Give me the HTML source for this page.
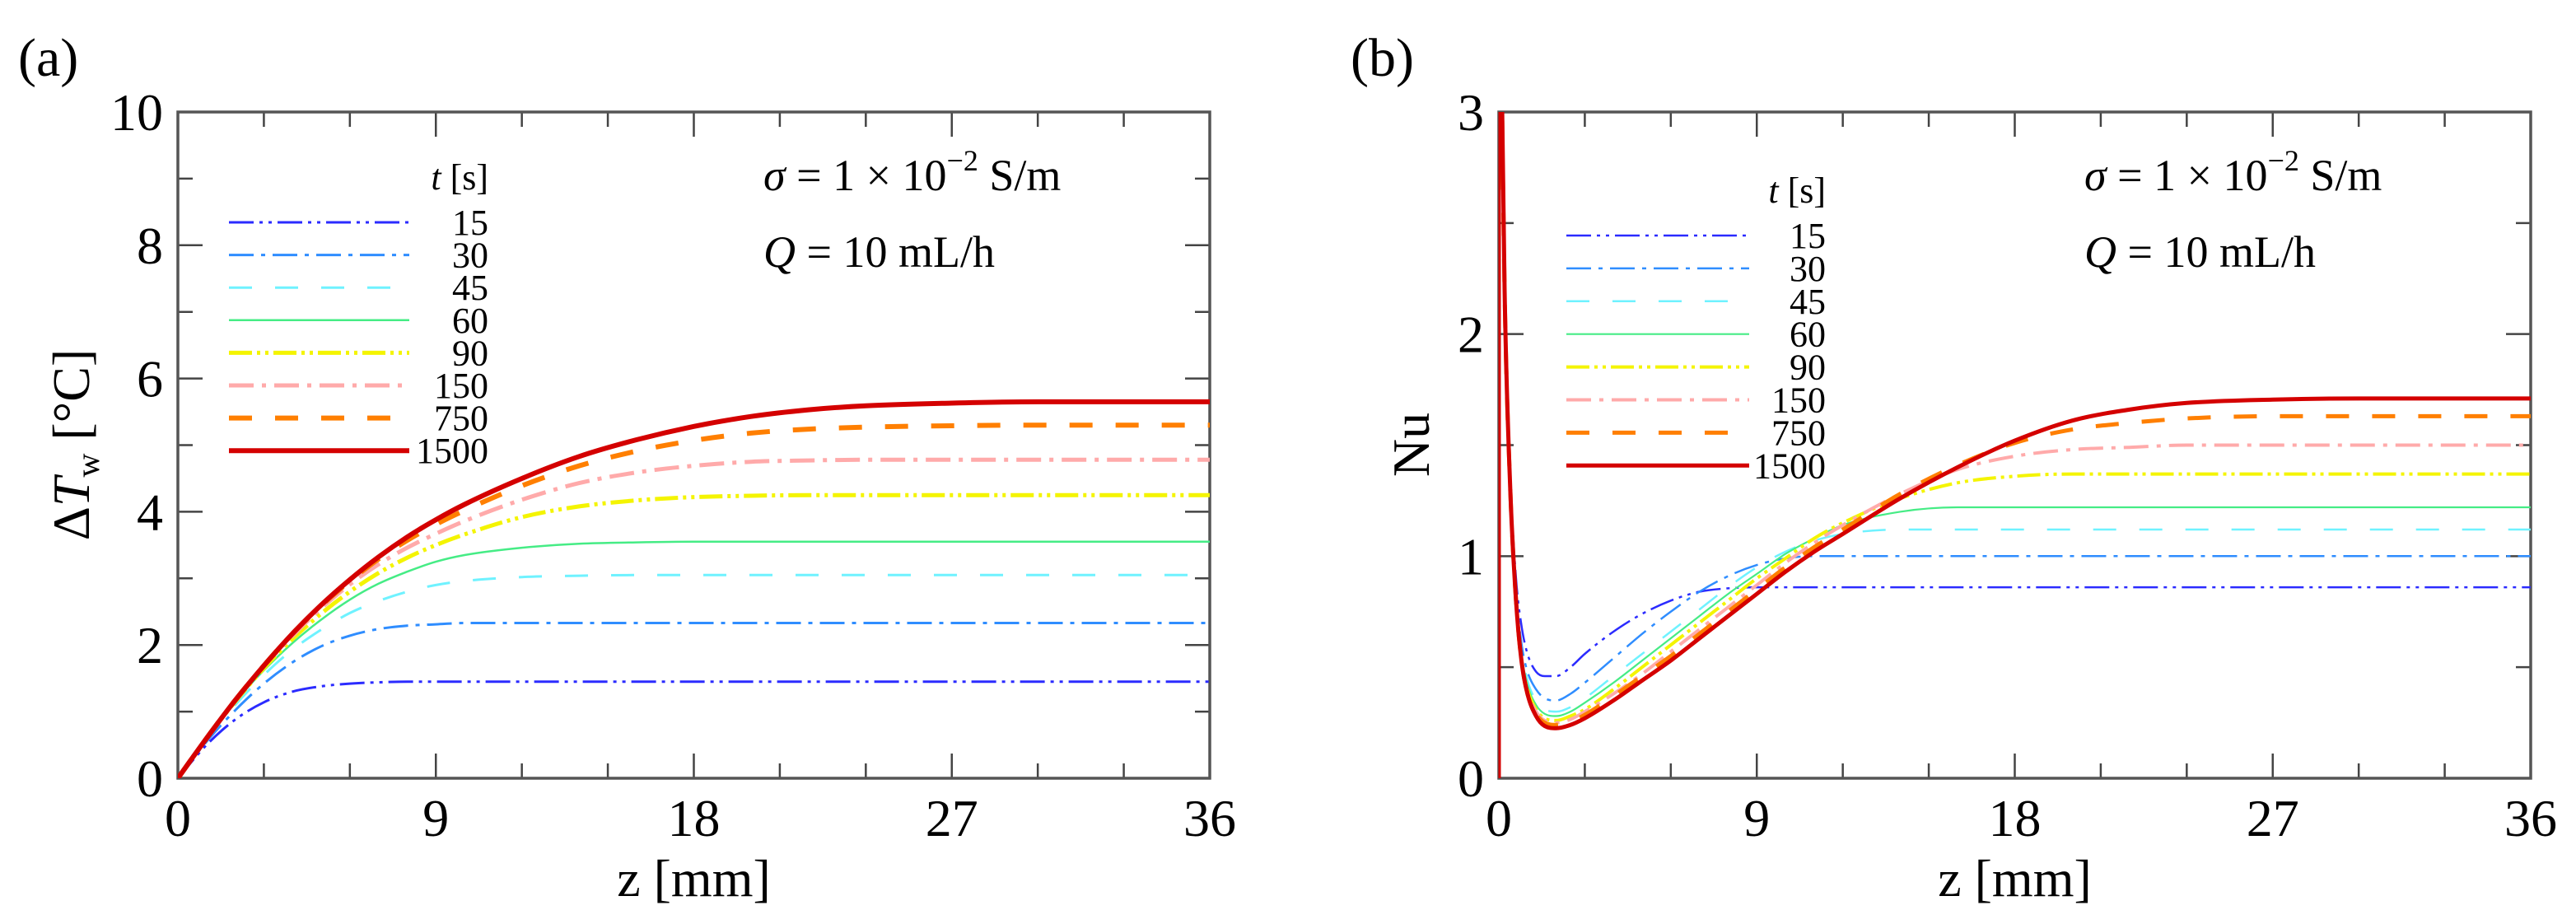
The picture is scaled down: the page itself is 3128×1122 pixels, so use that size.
<!DOCTYPE html>
<html><head><meta charset="utf-8"><style>
html,body{margin:0;padding:0;background:#fff;}
svg{display:block;font-family:"Liberation Serif",serif;}
</style></head><body>
<svg id="fig" width="3128" height="1122" viewBox="0 0 3128 1122" xmlns="http://www.w3.org/2000/svg">
<g id="pa"></g>
<g id="pb"></g>
</svg>
<script>
// ---- data ----
const times = ["15","30","45","60","90","150","750","1500"];
const zA = [0,1,2,3,4,5,6,7,8,9,10,12,14,16,18,20,22,24,27,30,33,36];
const dT15  = [0,0.5,0.88,1.14,1.3,1.38,1.42,1.44,1.45,1.45,1.45,1.45,1.45,1.45,1.45,1.45,1.45,1.45,1.45,1.45,1.45,1.45];
const dT30  = [0,0.55,1.02,1.42,1.74,1.98,2.14,2.24,2.29,2.31,2.33,2.33,2.33,2.33,2.33,2.33,2.33,2.33,2.33,2.33,2.33,2.33];
const dT45  = [0,0.58,1.1,1.55,1.93,2.23,2.48,2.66,2.8,2.9,2.96,3.02,3.04,3.05,3.05,3.05,3.05,3.05,3.05,3.05,3.05,3.05];
const dT60  = [0,0.6,1.15,1.62,2.03,2.38,2.68,2.92,3.1,3.25,3.35,3.46,3.52,3.54,3.55,3.55,3.55,3.55,3.55,3.55,3.55,3.55];
const dT90  = [0,0.6,1.15,1.65,2.09,2.47,2.8,3.08,3.31,3.5,3.66,3.92,4.08,4.17,4.22,4.24,4.25,4.25,4.25,4.25,4.25,4.25];
const dT150 = [0,0.6,1.17,1.68,2.14,2.55,2.91,3.21,3.46,3.67,3.86,4.18,4.43,4.59,4.69,4.75,4.77,4.78,4.78,4.78,4.78,4.78];
const dT750 = [0,0.6,1.17,1.69,2.17,2.59,2.96,3.29,3.57,3.81,4.02,4.39,4.69,4.91,5.07,5.18,5.24,5.27,5.29,5.3,5.3,5.3];
const dT1500= [0,0.6,1.17,1.69,2.17,2.6,2.98,3.32,3.62,3.88,4.11,4.5,4.83,5.08,5.28,5.43,5.53,5.59,5.63,5.65,5.65,5.65];
const zB = [0.02,0.2,0.4,0.6,0.8,1,1.3,1.6,2,2.5,3,4,5,6,7,8,9,10,11,12,14,16,18,20,22,24,27,30,33,36];
const nu15  = [4,2.2,1.35,0.9,0.68,0.56,0.48,0.46,0.46,0.5,0.56,0.66,0.74,0.8,0.84,0.855,0.86,0.86,0.86,0.86,0.86,0.86,0.86,0.86,0.86,0.86,0.86,0.86,0.86,0.86];
const nu30  = [4,2.2,1.31,0.85,0.6,0.48,0.4,0.36,0.35,0.38,0.43,0.54,0.65,0.75,0.84,0.91,0.96,0.99,1.0,1.0,1.0,1.0,1.0,1.0,1.0,1.0,1.0,1.0,1.0,1.0];
const nu45  = [4,2.2,1.3,0.82,0.57,0.44,0.35,0.31,0.3,0.32,0.36,0.46,0.56,0.66,0.76,0.86,0.95,1.02,1.07,1.1,1.12,1.12,1.12,1.12,1.12,1.12,1.12,1.12,1.12,1.12];
const nu60  = [4,2.2,1.3,0.81,0.55,0.42,0.33,0.29,0.28,0.3,0.34,0.43,0.53,0.63,0.73,0.83,0.92,1.01,1.08,1.14,1.2,1.22,1.22,1.22,1.22,1.22,1.22,1.22,1.22,1.22];
const nu90  = [4,2.2,1.3,0.8,0.53,0.4,0.31,0.27,0.26,0.28,0.31,0.4,0.5,0.6,0.7,0.8,0.9,0.99,1.08,1.15,1.26,1.33,1.36,1.37,1.37,1.37,1.37,1.37,1.37,1.37];
const nu150 = [4,2.2,1.3,0.8,0.53,0.39,0.3,0.26,0.25,0.265,0.3,0.38,0.47,0.57,0.67,0.77,0.87,0.97,1.06,1.14,1.28,1.39,1.45,1.48,1.49,1.5,1.5,1.5,1.5,1.5];
const nu750 = [4,2.2,1.3,0.8,0.52,0.38,0.29,0.25,0.24,0.255,0.285,0.37,0.46,0.55,0.65,0.75,0.85,0.95,1.04,1.12,1.28,1.41,1.51,1.57,1.6,1.62,1.63,1.63,1.63,1.63];
const nu1500= [4,2.2,1.3,0.8,0.52,0.38,0.28,0.235,0.225,0.24,0.27,0.35,0.44,0.53,0.63,0.73,0.83,0.93,1.02,1.1,1.26,1.4,1.52,1.61,1.66,1.69,1.705,1.71,1.71,1.71];
const xTicks = [0,9,18,27,36];
const yTicksA = [0,2,4,6,8,10];
const yTicksB = [0,1,2,3];

const NS="http://www.w3.org/2000/svg";
const colors=["#2b2bff","#2f8dff","#6ff2ff","#45ec85","#f4f400","#ffaaaa","#ff7f00","#d40000"];
const dashes=["30 7 4 7 4 7","30 9 5 9","28 28","","28 6 4 6 4 6","30 10 5 10","28 28",""];
const widthsA=[3,3,3,2.5,5,5,6,6];
const widthsB=[2.5,2.5,2.5,2.2,4,4,5,5];

function el(tag,attrs,parent){const e=document.createElementNS(NS,tag);for(const k in attrs)e.setAttribute(k,attrs[k]);parent.appendChild(e);return e;}

function monoPath(px,py){
  const n=px.length;const d=[],m=new Array(n);
  for(let i=0;i<n-1;i++)d.push((py[i+1]-py[i])/(px[i+1]-px[i]));
  m[0]=d[0];m[n-1]=d[n-2];
  for(let i=1;i<n-1;i++){m[i]=(d[i-1]*d[i]<=0)?0:(d[i-1]+d[i])/2;}
  for(let i=0;i<n-1;i++){
    if(d[i]===0){m[i]=0;m[i+1]=0;continue;}
    const a=m[i]/d[i],b=m[i+1]/d[i],s=a*a+b*b;
    if(s>9){const t=3/Math.sqrt(s);m[i]=t*a*d[i];m[i+1]=t*b*d[i];}
  }
  let s="M"+px[0].toFixed(1)+","+py[0].toFixed(1);
  for(let i=0;i<n-1;i++){
    const h=(px[i+1]-px[i])/3;
    s+="C"+(px[i]+h).toFixed(1)+","+(py[i]+m[i]*h).toFixed(1)+" "+(px[i+1]-h).toFixed(1)+","+(py[i+1]-m[i+1]*h).toFixed(1)+" "+px[i+1].toFixed(1)+","+py[i+1].toFixed(1);
  }
  return s;
}

function drawPanel(g,cfg){
  const L=cfg.L,R=cfg.R,T=136,B=945;
  const xs=v=>L+(v/36)*(R-L);
  const ys=v=>B-(v/cfg.yMax)*(B-T);
  const cp=el("clipPath",{id:cfg.id+"clip"},g);
  el("rect",{x:L,y:T,width:R-L,height:B-T},cp);
  const tg=el("g",{stroke:"#444","stroke-width":2.5},g);
  
  
  for(let v=0;v<=36;v+=3){
    const major=(v%9===0);const len=major?30:18;const x=xs(v);
    el("line",{x1:x,y1:B,x2:x,y2:B-len},tg);
    el("line",{x1:x,y1:T,x2:x,y2:T+len},tg);
  }
  for(let v=0;v<=cfg.yMax+1e-9;v+=cfg.minor){
    const major=Math.abs(v/cfg.major-Math.round(v/cfg.major))<1e-6;const len=major?30:18;const y=ys(v);
    el("line",{x1:L,y1:y,x2:L+len,y2:y},tg);
    el("line",{x1:R,y1:y,x2:R-len,y2:y},tg);
  }
  const fr=el("rect",{x:L,y:T,width:R-L,height:B-T,fill:"none",stroke:"#555","stroke-width":3.5},g);
  
  
  xTicks.forEach(v=>{
    const t=el("text",{x:xs(v),y:1015,"font-size":64,"text-anchor":"middle"},g);
    t.textContent=v;
    
    
  });
  cfg.yTicks.forEach(v=>{
    const t=el("text",{x:L-18,y:ys(v)+22,"font-size":64,"text-anchor":"end"},g);
    t.textContent=v;
    
    
  });
  const sg=el("g",{"clip-path":"url(#"+cfg.id+"clip)",fill:"none"},g);
  
  
  cfg.series.forEach((vals,i)=>{
    const px=cfg.z.map(xs),py=vals.map(ys);
    const p=el("path",{d:monoPath(px,py),stroke:colors[i],"stroke-width":cfg.widths[i],"stroke-dasharray":dashes[i]||"none","stroke-linejoin":"round"},sg);
    
    
  });
  const lg=el("g",{},g);
  
  
  const lt=el("text",{x:cfg.legX2,y:cfg.legY0-40,"font-size":44,"text-anchor":"end"},lg);
  lt.innerHTML='<tspan font-style="italic">t</tspan> [s]';
  
  
  times.forEach((tm,i)=>{
    const y=cfg.legY0+i*cfg.legDy;
    const ln=el("line",{x1:cfg.legX0,y1:y,x2:cfg.legX1,y2:y,stroke:colors[i],"stroke-width":cfg.widths[i],"stroke-dasharray":dashes[i]||"none"},lg);
    
    
    const tx=el("text",{x:cfg.legX2,y:y+15,"font-size":44,"text-anchor":"end"},lg);
    tx.textContent=tm;
    
    
  });
  const a1=el("text",{x:L+711,y:231,"font-size":54},g);
  a1.innerHTML='<tspan font-style="italic">σ</tspan> = 1 × 10<tspan dy="-24" font-size="36">−2</tspan><tspan dy="24"> S/m</tspan>';
  
  
  const a2=el("text",{x:L+711,y:324,"font-size":54},g);
  a2.innerHTML='<tspan font-style="italic">Q</tspan> = 10 mL/h';
  
  
  const xt=el("text",{x:(L+R)/2,y:1088,"font-size":64,"text-anchor":"middle"},g);
  xt.textContent="z [mm]";
  
  
  const yt=el("text",{x:0,y:0,"font-size":64,"text-anchor":"middle",transform:"translate("+cfg.yTitleX+",540) rotate(-90)"},g);
  yt.innerHTML=cfg.yTitle;
  
  
  const pl=el("text",{x:cfg.labX,y:92,"font-size":66},g);
  pl.textContent=cfg.label;
  
  
}

drawPanel(document.getElementById("pa"),{id:"a",L:216,R:1469,yMax:10,minor:1,major:2,yTicks:yTicksA,
  z:zA,series:[dT15,dT30,dT45,dT60,dT90,dT150,dT750,dT1500],widths:widthsA,
  legX0:278,legX1:497,legX2:593,legY0:270,legDy:39.6,
  yTitleX:108,yTitle:'Δ<tspan font-style="italic">T</tspan><tspan font-size="40" dy="12">w</tspan><tspan dy="-12"> [°C]</tspan>',labX:22,label:"(a)"});
drawPanel(document.getElementById("pb"),{id:"b",L:1820,R:3073,yMax:3,minor:0.5,major:1,yTicks:yTicksB,
  z:zB,series:[nu15,nu30,nu45,nu60,nu90,nu150,nu750,nu1500],widths:widthsB,
  legX0:1902,legX1:2124,legX2:2217,legY0:286,legDy:39.9,
  yTitleX:1735,yTitle:'Nu',labX:1640,label:"(b)"});
const rv=document.createElementNS(NS,"line");
rv.setAttribute("x1",1821);rv.setAttribute("y1",136);rv.setAttribute("x2",1821);rv.setAttribute("y2",945);
rv.setAttribute("stroke","#d40000");rv.setAttribute("stroke-width",3);


document.getElementById("pb").appendChild(rv);
</script>
</body></html>
